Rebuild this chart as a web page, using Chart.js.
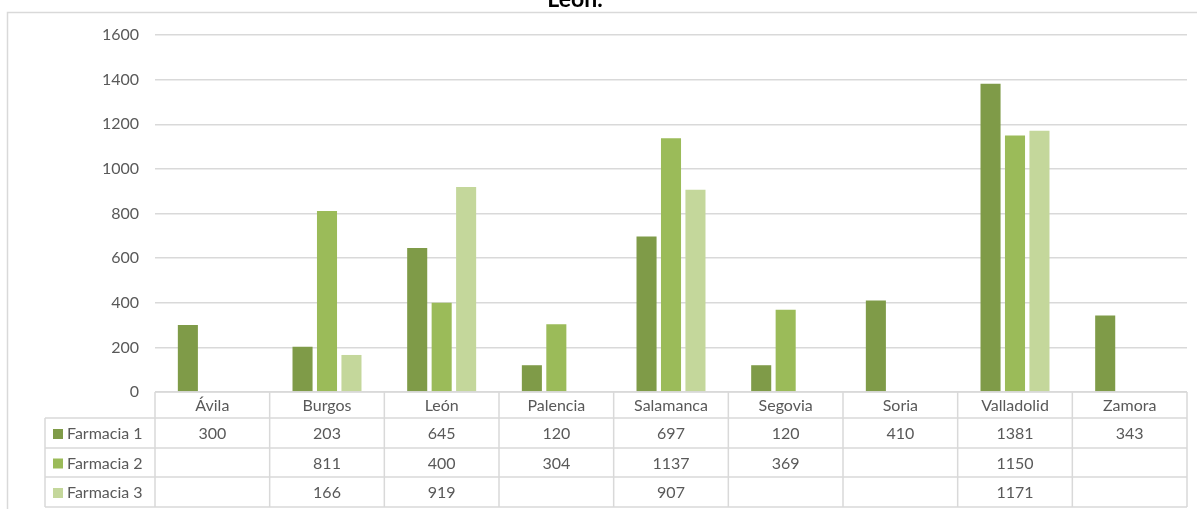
<!DOCTYPE html>
<html>
<head>
<meta charset="utf-8">
<script src="https://cdn.jsdelivr.net/npm/chart.js@4"></script>
<style>
    html, body { margin: 0; padding: 0; background: #ffffff; }
    #wrap { width: 1197px; height: 509px; position: relative; }
</style>
</head>
<body>
<div id="wrap"><canvas id="farmaciasChart"></canvas></div>
<script>
// ==========================================
// 1. DATA
// ==========================================
const provincias = ['Ávila', 'Burgos', 'León', 'Palencia', 'Salamanca', 'Segovia', 'Soria', 'Valladolid', 'Zamora'];
const farmacia1 = [300, 203, 645, 120, 697, 120, 410, 1381, 343];
const farmacia2 = [null, 811, 400, 304, 1137, 369, null, 1150, null];
const farmacia3 = [null, 166, 919, null, 907, null, null, 1171, null];
const seriesNames = ['Farmacia 1', 'Farmacia 2', 'Farmacia 3'];
const yTicks = [0, 200, 400, 600, 800, 1000, 1200, 1400, 1600];
const chartTitle = 'León.';

const colors = ['#7f9b48', '#9bbb59', '#c4d79b'];
const gridColor = '#d9d9d9';
const textColor = '#595959';
const FONT = 'Lato, "Open Sans", sans-serif';

// ==========================================
// 2. PLUGINS (frame, title, data table)
// ==========================================
const framePlugin = {
    id: 'frame',
    beforeDraw(chart) {
        const ctx = chart.ctx;
        ctx.save();
        ctx.fillStyle = '#ffffff';
        ctx.fillRect(0, 0, chart.width, chart.height);
        ctx.strokeStyle = gridColor;
        ctx.lineWidth = 1.5;
        ctx.beginPath();
        ctx.moveTo(7.5, chart.height + 5);
        ctx.lineTo(7.5, 12.5);
        ctx.lineTo(chart.width + 5, 12.5);
        ctx.stroke();

        // Title, mostly cut off at the top edge
        ctx.fillStyle = '#000000';
        ctx.font = 'bold 23px ' + FONT;
        ctx.textAlign = 'center';
        ctx.textBaseline = 'alphabetic';
        ctx.fillText(chartTitle, 575, 7);
        ctx.restore();
    }
};

const dataTablePlugin = {
    id: 'dataTable',
    afterDraw(chart) {
        const ctx = chart.ctx;
        const area = chart.chartArea;
        const xScale = chart.scales.x;
        const rows = [area.bottom, area.bottom + 26, area.bottom + 56, area.bottom + 85, area.bottom + 115];
        const labelLeft = 45;

        // Category edges come from the x scale
        const half = (xScale.getPixelForValue(1) - xScale.getPixelForValue(0)) / 2;
        const edges = provincias.map((p, i) => xScale.getPixelForValue(i) - half);
        edges.push(xScale.getPixelForValue(provincias.length - 1) + half);

        ctx.save();
        ctx.strokeStyle = gridColor;
        ctx.lineWidth = 1.5;
        ctx.beginPath();
        // horizontal lines
        ctx.moveTo(area.left, rows[0]); ctx.lineTo(area.right, rows[0]);
        for (let r = 1; r < rows.length; r++) {
            ctx.moveTo(labelLeft, rows[r]); ctx.lineTo(area.right, rows[r]);
        }
        // vertical lines
        edges.forEach(x => { ctx.moveTo(x, rows[0]); ctx.lineTo(x, rows[4]); });
        ctx.moveTo(labelLeft, rows[1]); ctx.lineTo(labelLeft, rows[4]);
        ctx.stroke();

        ctx.font = '16px ' + FONT;
        ctx.fillStyle = textColor;
        ctx.textBaseline = 'middle';
        ctx.textAlign = 'center';

        // category header
        provincias.forEach((p, i) => {
            ctx.fillText(p, xScale.getPixelForValue(i), (rows[0] + rows[1]) / 2 + 1);
        });

        // series rows
        chart.data.datasets.forEach((ds, s) => {
            const yMid = (rows[s + 1] + rows[s + 2]) / 2 + 1;
            ctx.fillStyle = ds.backgroundColor;
            ctx.fillRect(53, yMid - 5, 10, 10);
            ctx.fillStyle = textColor;
            ctx.textAlign = 'left';
            ctx.fillText(ds.label, 67, yMid);
            ctx.textAlign = 'center';
            ds.data.forEach((v, i) => {
                if (v === null) return;
                ctx.fillText(String(v), xScale.getPixelForValue(i), yMid);
            });
        });
        ctx.restore();
    }
};

// ==========================================
// 3. CHART
// ==========================================
function renderChart() {
    const canvas = document.getElementById('farmaciasChart');
    const ctx = canvas.getContext('2d');

    const datasets = [farmacia1, farmacia2, farmacia3].map((values, i) => ({
        label: seriesNames[i],
        data: values,
        backgroundColor: colors[i],
        borderWidth: 0,
        categoryPercentage: 0.64,
        barPercentage: 0.82
    }));

    new Chart(ctx, {
        type: 'bar',
        data: { labels: provincias, datasets: datasets },
        options: {
            responsive: true,
            maintainAspectRatio: false,
            animation: false,
            layout: { padding: { left: 55, right: 10, top: 35, bottom: 117 } },
            plugins: {
                legend: { display: false },
                tooltip: { enabled: false }
            },
            scales: {
                x: { display: false },
                y: {
                    min: yTicks[0],
                    max: yTicks[yTicks.length - 1],
                    afterFit: scale => { scale.width = 100; },
                    afterBuildTicks: scale => { scale.ticks = yTicks.map(v => ({ value: v })); },
                    border: { display: false },
                    grid: { color: gridColor, lineWidth: 1.5, drawTicks: false },
                    ticks: {
                        color: textColor,
                        padding: 16,
                        font: { family: FONT, size: 16 },
                        callback: value => String(value) // no thousands separator
                    }
                }
            }
        },
        plugins: [framePlugin, dataTablePlugin]
    });
}

document.addEventListener('DOMContentLoaded', renderChart);
</script>
</body>
</html>
